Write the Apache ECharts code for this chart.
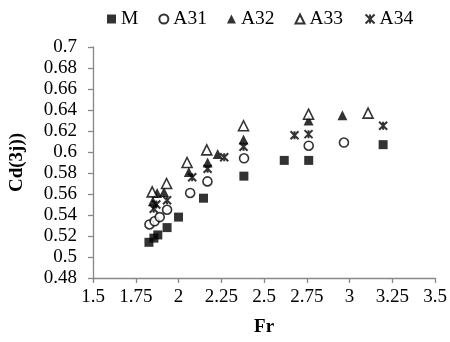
<!DOCTYPE html>
<html>
<head>
<meta charset="utf-8">
<script src="https://cdn.jsdelivr.net/npm/echarts@6/dist/echarts.min.js"></script>
<style>
  html, body { margin: 0; padding: 0; background: #fff; }
  #chart { width: 450px; height: 342px; }
</style>
</head>
<body>
<div id="chart"></div>
<script>
// Froude number (x) and discharge coefficient (y) for each test series
const seriesNames = ['M', 'A31', 'A32', 'A33', 'A34'];

const frM   = [1.827, 1.856, 1.879, 1.933, 2.000, 2.146, 2.382, 2.618, 2.761, 3.196];
const cdM   = [0.514, 0.518, 0.521, 0.528, 0.538, 0.556, 0.577, 0.592, 0.592, 0.607];

const frA31 = [1.830, 1.860, 1.890, 1.933, 2.068, 2.169, 2.383, 2.761, 2.967];
const cdA31 = [0.531, 0.534, 0.538, 0.545, 0.561, 0.572, 0.594, 0.606, 0.609];

const frA32 = [1.850, 1.875, 1.915, 2.060, 2.170, 2.229, 2.380, 2.760, 2.958];
const cdA32 = [0.553, 0.561, 0.562, 0.581, 0.590, 0.598, 0.612, 0.630, 0.635];

const frA33 = [1.846, 1.930, 2.050, 2.165, 2.380, 2.760, 3.108];
const cdA33 = [0.562, 0.570, 0.590, 0.602, 0.625, 0.636, 0.637];

const frA34 = [1.855, 1.870, 1.933, 2.080, 2.170, 2.267, 2.380, 2.678, 2.760, 3.196];
const cdA34 = [0.546, 0.550, 0.554, 0.576, 0.584, 0.595, 0.605, 0.616, 0.617, 0.625];

const xTicks = { min: 1.5, max: 3.5, step: 0.25 };
const yTicks = { min: 0.48, max: 0.70, step: 0.02 };

const pair = (xs, ys) => xs.map((x, i) => [x, ys[i]]);

const FONT = '"Liberation Serif", "Times New Roman", serif';
const AXIS_GREY = '#888888';

// asterisk-like star marker (X with a vertical stroke)
const STAR = 'path://M0,0L10,10M10,0L0,10M5,0L5,10';

const markerStyles = {
  M:   { symbol: 'rect', symbolSize: 9, itemStyle: { color: '#000' } },
  A31: { symbol: 'circle', symbolSize: 9, itemStyle: { color: '#fff', borderColor: '#000', borderWidth: 1.6 } },
  A32: { symbol: 'triangle', symbolSize: 10, itemStyle: { color: '#000' } },
  A33: { symbol: 'triangle', symbolSize: 10, itemStyle: { color: '#fff', borderColor: '#000', borderWidth: 1.6 } },
  A34: { symbol: STAR, symbolSize: 8, itemStyle: { color: 'none', borderColor: '#000', borderWidth: 2 } }
};

const dataSets = {
  M: pair(frM, cdM),
  A31: pair(frA31, cdA31),
  A32: pair(frA32, cdA32),
  A33: pair(frA33, cdA33),
  A34: pair(frA34, cdA34)
};

const chart = echarts.init(document.getElementById('chart'), null, { renderer: 'canvas' });

chart.setOption({
  animation: false,
  backgroundColor: '#fff',
  textStyle: { fontFamily: FONT, color: '#000' },
  legend: {
    top: 9,
    left: 107,
    padding: 0,
    itemWidth: 9,
    itemHeight: 9,
    itemGap: 20,
    textStyle: { fontFamily: FONT, fontSize: 19.5, color: '#000' },
    data: seriesNames
  },
  grid: { left: 92, right: 13, top: 47, bottom: 62 },
  xAxis: {
    type: 'value',
    min: xTicks.min,
    max: xTicks.max,
    interval: xTicks.step,
    name: 'Fr',
    nameLocation: 'middle',
    nameGap: 40,
    nameTextStyle: { fontFamily: FONT, fontSize: 19, fontWeight: 'bold', color: '#000' },
    axisLine: { show: true, lineStyle: { color: AXIS_GREY, width: 1.3 } },
    axisTick: { show: true, length: 5, lineStyle: { color: AXIS_GREY, width: 1.3 } },
    axisLabel: {
      margin: 10,
      fontFamily: FONT, fontSize: 19, color: '#000',
      formatter: v => String(+v.toFixed(2))
    },
    splitLine: { show: false }
  },
  yAxis: {
    type: 'value',
    min: yTicks.min,
    max: yTicks.max,
    interval: yTicks.step,
    name: 'Cd(3j))',
    nameLocation: 'middle',
    nameGap: 66,
    nameRotate: 90,
    nameTextStyle: { fontFamily: FONT, fontSize: 19, fontWeight: 'bold', color: '#000' },
    axisLine: { show: true, lineStyle: { color: AXIS_GREY, width: 1.3 } },
    axisTick: { show: true, length: 5, lineStyle: { color: AXIS_GREY, width: 1.3 } },
    axisLabel: {
      margin: 16,
      fontFamily: FONT, fontSize: 19, color: '#000',
      formatter: v => String(+v.toFixed(2))
    },
    splitLine: { show: false }
  },
  series: seriesNames.map(name => Object.assign({
    name: name,
    type: 'scatter',
    data: dataSets[name],
    emphasis: { disabled: true }
  }, markerStyles[name]))
});
</script>
</body>
</html>
